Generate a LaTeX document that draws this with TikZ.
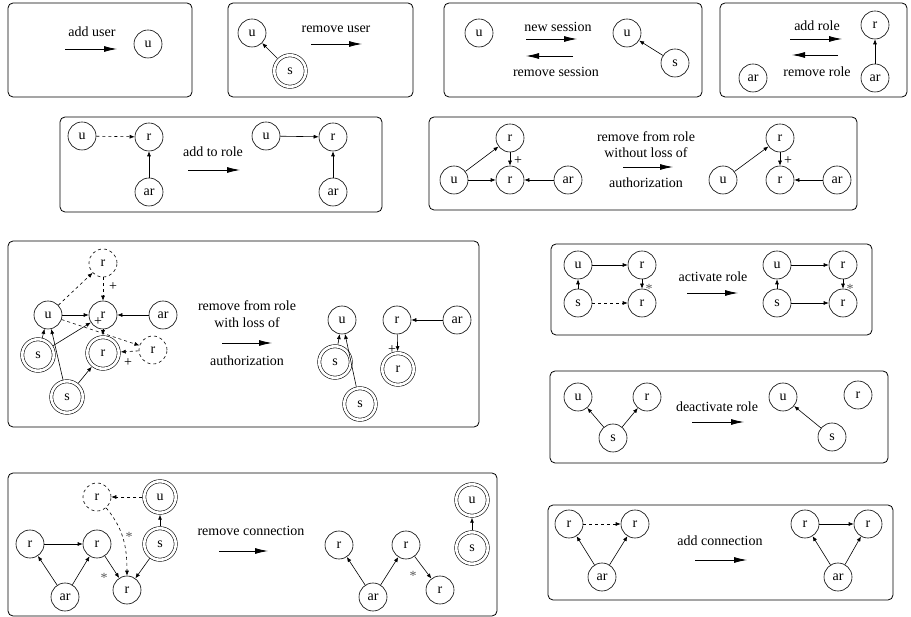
\documentclass[tikz,border=0pt]{standalone}
\usepackage{fontspec}
\setmainfont{Liberation Serif}
\usetikzlibrary{arrows.meta}
\begin{document}
\begin{tikzpicture}[x=1pt,y=-1pt,
  font=\fontsize{14}{16}\selectfont,
  panel/.style={draw, rounded corners=5pt, line width=0.8pt},
  nd/.style={draw, circle, minimum size=28pt, inner sep=0pt, line width=0.6pt},
  dn/.style={nd, dashed},
  db/.style={nd, double, double distance=2.6pt, minimum size=31.5pt, outer sep=2pt},
  ed/.style={-{Latex[length=5pt,width=4pt]}, line width=0.6pt},
  de/.style={ed, dashed},
  tr/.style={-{Latex[length=13pt,width=6pt]}, line width=0.8pt},
  lab/.style={inner sep=1pt},
  star/.style={inner sep=1pt, text=black!65}]
\useasboundingbox (0,0) rectangle (911,617);

% ---------- panel 1: add user
\draw[panel] (8,3) rectangle (192,97);
\node (t1) at (92,32) {add user};
\coordinate (a1s) at (65,49); \coordinate (a1e) at (117,49);
\draw[tr] (a1s) -- (a1e);
\node[nd] (p1u) at (148,44) {u};

% ---------- panel 2: remove user
\draw[panel] (228,3) rectangle (413,97);
\node[nd] (p2u) at (252,33) {u};
\node[db] (p2s) at (290,71) {s};
\draw[ed] (p2s) -- (p2u);
\node (t2) at (336,29) {remove user};
\coordinate (a2s) at (311,44); \coordinate (a2e) at (362,44);
\draw[tr] (a2s) -- (a2e);

% ---------- panel 3: new / remove session
\draw[panel] (444,3) rectangle (702,97);
\node[nd] (p3u) at (479,33) {u};
\node (t3a) at (558,27) {new session};
\coordinate (a3s) at (526,39); \coordinate (a3e) at (577,39);
\draw[tr] (a3s) -- (a3e);
\coordinate (b3s) at (573,56); \coordinate (b3e) at (526,56);
\draw[tr] (b3s) -- (b3e);
\node (t3b) at (556,72) {remove session};
\node[nd] (p3u2) at (627,33) {u};
\node[nd] (p3s) at (675,63) {s};
\draw[ed] (p3s) -- (p3u2);

% ---------- panel 4: add / remove role
\draw[panel] (720,3) rectangle (907,97);
\node[nd] (p4ar) at (753,78) {ar};
\node (t4a) at (817,26) {add role};
\coordinate (a4s) at (790,39); \coordinate (a4e) at (842,39);
\draw[tr] (a4s) -- (a4e);
\coordinate (b4s) at (838,55); \coordinate (b4e) at (792,55);
\draw[tr] (b4s) -- (b4e);
\node (t4b) at (817,72) {remove role};
\node[nd] (p4r) at (875,25) {r};
\node[nd] (p4ar2) at (875,78) {ar};
\draw[ed] (p4ar2) -- (p4r);

% ---------- panel 5: add to role
\draw[panel] (60,117) rectangle (382,212);
\node[nd] (p5u) at (82,136) {u};
\node[nd] (p5r) at (149,137) {r};
\node[nd] (p5ar) at (149,192) {ar};
\draw[de] (p5u) -- (p5r);
\draw[ed] (p5ar) -- (p5r);
\node (t5) at (213,152) {add to role};
\coordinate (a5s) at (188,170); \coordinate (a5e) at (240,170);
\draw[tr] (a5s) -- (a5e);
\node[nd] (p5u2) at (266,136) {u};
\node[nd] (p5r2) at (333,137) {r};
\node[nd] (p5ar2) at (333,192) {ar};
\draw[ed] (p5u2) -- (p5r2);
\draw[ed] (p5ar2) -- (p5r2);

% ---------- panel 6: remove from role without loss
\draw[panel] (429,117) rectangle (857,210);
\node[nd] (p6rt) at (510,138) {r};
\node[nd] (p6rm) at (510,180) {r};
\node[nd] (p6u) at (454,180) {u};
\node[nd] (p6ar) at (568,180) {ar};
\draw[ed] (p6u) -- (p6rt);
\draw[ed] (p6rt) -- (p6rm);
\node[lab] (p6p) at (518,161) {+};
\draw[ed] (p6u) -- (p6rm);
\draw[ed] (p6ar) -- (p6rm);
\node (t6a) at (646,137) {remove from role};
\node (t6b) at (646,153) {without loss of};
\coordinate (a6s) at (623,167); \coordinate (a6e) at (673,167);
\draw[tr] (a6s) -- (a6e);
\node (t6c) at (646,183) {authorization};
\node[nd] (p6rt2) at (780,138) {r};
\node[nd] (p6rm2) at (780,180) {r};
\node[nd] (p6u2) at (723,180) {u};
\node[nd] (p6ar2) at (837,180) {ar};
\draw[ed] (p6u2) -- (p6rt2);
\draw[ed] (p6rt2) -- (p6rm2);
\node[lab] (p6p2) at (788,161) {+};
\draw[ed] (p6ar2) -- (p6rm2);

% ---------- panel 7: remove from role with loss
\draw[panel] (8,241) rectangle (479,427);
\node[dn] (p7rd) at (103,263) {r};
\node[nd] (p7u) at (48,315) {u};
\node[nd] (p7r) at (103,315) {r};
\node[nd] (p7ar) at (163,315) {ar};
\node[db] (p7s1) at (38,355) {s};
\node[db] (p7rr) at (103,353) {r};
\node[dn] (p7rd2) at (153,350) {r};
\node[db] (p7s2) at (67,397) {s};
\draw[de] (p7u) -- (p7rd);
\draw[de] (p7rd) -- (p7r);
\node[lab] (p7p1) at (113,287) {+};
\draw[ed] (p7u) -- (p7r);
\draw[ed] (p7ar) -- (p7r);
\draw[ed] (p7s1) -- (p7u);
\draw[ed] (p7s1) -- (p7r);
\draw[ed] (p7s2) -- (p7u);
\draw[ed] (p7s2) -- (p7rr);
\draw[de] (p7u) -- (p7rd2);
\draw[ed] (p7r) -- (p7rr);
\node[lab] (p7p2) at (98,322) {+};
\draw[de] (p7rd2) -- (p7rr);
\node[lab] (p7p3) at (128,363) {+};
\node (t7a) at (247,306) {remove from role};
\node (t7b) at (247,323) {with loss of};
\coordinate (a7s) at (222,343); \coordinate (a7e) at (272,343);
\draw[tr] (a7s) -- (a7e);
\node (t7c) at (247,361) {authorization};
\node[nd] (p7u2) at (342,320) {u};
\node[nd] (p7r2) at (397,320) {r};
\node[nd] (p7ar2) at (457,320) {ar};
\node[db] (p7s3) at (335,362) {s};
\node[db] (p7rr2) at (398,369) {r};
\node[db] (p7s4) at (360,404) {s};
\draw[ed] (p7s3) -- (p7u2);
\draw[ed] (p7s4) -- (p7u2);
\draw[ed] (p7ar2) -- (p7r2);
\draw[ed] (p7r2) -- (p7rr2);
\node[lab] (p7p4) at (392,350) {+};

% ---------- panel 8: activate role
\draw[panel] (551,244) rectangle (872,335);
\node[nd] (p8u) at (578,265) {u};
\node[nd] (p8r) at (642,265) {r};
\node[nd] (p8s) at (578,303) {s};
\node[nd] (p8rb) at (642,303) {r};
\draw[ed] (p8u) -- (p8r);
\draw[ed] (p8s) -- (p8u);
\draw[ed] (p8r) -- (p8rb);
\node[star] (p8st) at (649,289) {*};
\draw[de] (p8s) -- (p8rb);
\node (t8) at (713,277) {activate role};
\coordinate (a8s) at (687,293); \coordinate (a8e) at (738,293);
\draw[tr] (a8s) -- (a8e);
\node[nd] (p8u2) at (777,265) {u};
\node[nd] (p8r2) at (843,265) {r};
\node[nd] (p8s2) at (777,303) {s};
\node[nd] (p8rb2) at (843,303) {r};
\draw[ed] (p8u2) -- (p8r2);
\draw[ed] (p8s2) -- (p8u2);
\draw[ed] (p8r2) -- (p8rb2);
\node[star] (p8st2) at (850,289) {*};
\draw[ed] (p8s2) -- (p8rb2);

% ---------- panel 9: deactivate role
\draw[panel] (550,371) rectangle (888,463);
\node[nd] (p9u) at (578,397) {u};
\node[nd] (p9r) at (647,397) {r};
\node[nd] (p9s) at (613,438) {s};
\draw[ed] (p9s) -- (p9u);
\draw[ed] (p9s) -- (p9r);
\node (t9) at (717,407) {deactivate role};
\coordinate (a9s) at (692,422); \coordinate (a9e) at (744,422);
\draw[tr] (a9s) -- (a9e);
\node[nd] (p9u2) at (783,397) {u};
\node[nd] (p9r2) at (858,395) {r};
\node[nd] (p9s2) at (832,437) {s};
\draw[ed] (p9s2) -- (p9u2);

% ---------- panel 10: remove connection
\draw[panel] (8,473) rectangle (497,616);
\node[dn] (p10rd) at (97,497) {r};
\node[db] (p10u) at (160,497) {u};
\node[nd] (p10rl) at (30,544) {r};
\node[nd] (p10rm) at (97,544) {r};
\node[db] (p10s) at (160,544) {s};
\node[nd] (p10rb) at (127,590) {r};
\node[nd] (p10ar) at (65,597) {ar};
\draw[de] (p10u) -- (p10rd);
\draw[ed] (p10s) -- (p10u);
\draw[ed] (p10rl) -- (p10rm);
\draw[ed] (p10ar) -- (p10rl);
\draw[ed] (p10ar) -- (p10rm);
\draw[ed] (p10rm) -- (p10rb);
\node[star] (p10st1) at (104,578) {*};
\draw[de] (p10rd) to[out=-50,in=90] (p10rb);
\node[star] (p10st2) at (129,537) {*};
\draw[ed] (p10s) -- (p10rb);
\node (t10) at (251,531) {remove connection};
\coordinate (a10s) at (219,551); \coordinate (a10e) at (268,551);
\draw[tr] (a10s) -- (a10e);
\node[nd] (p10rl2) at (339,545) {r};
\node[nd] (p10rm2) at (406,545) {r};
\node[nd] (p10ar2) at (373,597) {ar};
\node[nd] (p10rb2) at (440,590) {r};
\node[db] (p10u2) at (472,500) {u};
\node[db] (p10s2) at (472,548) {s};
\draw[ed] (p10ar2) -- (p10rl2);
\draw[ed] (p10ar2) -- (p10rm2);
\draw[ed] (p10rm2) -- (p10rb2);
\node[star] (p10st3) at (413,576) {*};
\draw[ed] (p10s2) -- (p10u2);

% ---------- panel 11: add connection
\draw[panel] (548,505) rectangle (893,600);
\node[nd] (p11rl) at (569,524) {r};
\node[nd] (p11rr) at (635,524) {r};
\node[nd] (p11ar) at (602,577) {ar};
\draw[de] (p11rl) -- (p11rr);
\draw[ed] (p11ar) -- (p11rl);
\draw[ed] (p11ar) -- (p11rr);
\node (t11) at (720,541) {add connection};
\coordinate (a11s) at (695,560); \coordinate (a11e) at (747,560);
\draw[tr] (a11s) -- (a11e);
\node[nd] (p11rl2) at (805,524) {r};
\node[nd] (p11rr2) at (868,524) {r};
\node[nd] (p11ar2) at (838,577) {ar};
\draw[ed] (p11rl2) -- (p11rr2);
\draw[ed] (p11ar2) -- (p11rl2);
\draw[ed] (p11ar2) -- (p11rr2);
\end{tikzpicture}
\end{document}
